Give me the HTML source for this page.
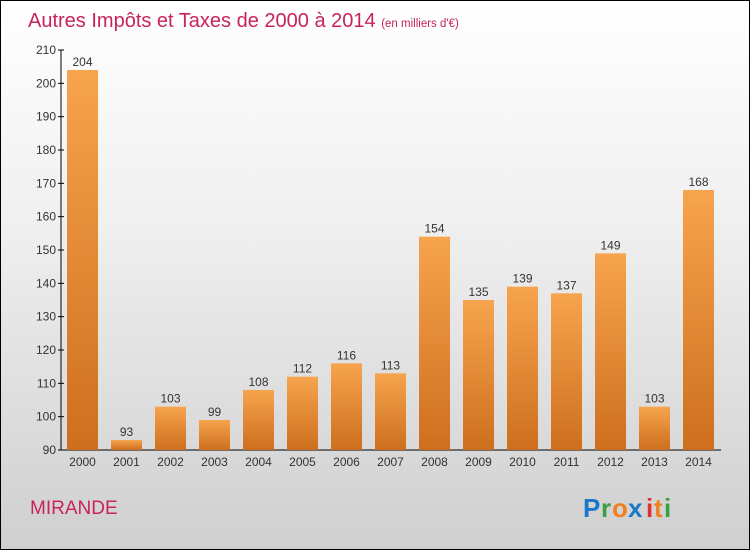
<!DOCTYPE html>
<html><head><meta charset="utf-8"><style>
body{margin:0}
#c{width:750px;height:550px;position:relative;box-sizing:border-box;border:1px solid #000;background:linear-gradient(#ffffff,#f0f0f0 40%,#cfcfcf);font-family:"Liberation Sans",sans-serif;overflow:hidden}
</style></head><body>
<div id="c">
<svg width="750" height="550" style="position:absolute;left:-1px;top:-1px" id="s">
<defs><linearGradient id="g" x1="0" y1="0" x2="0" y2="1"><stop offset="0" stop-color="#f7a44e"/><stop offset="1" stop-color="#cd6f1e"/></linearGradient></defs>
<text x="28" y="27" font-size="20" fill="#c8245a" font-family="Liberation Sans,sans-serif">Autres Impôts et Taxes de 2000 à 2014 <tspan font-size="11.5">(en milliers d'€)</tspan></text>
<text x="30" y="514" font-size="19" fill="#c8245a" font-family="Liberation Sans,sans-serif">MIRANDE</text>
<g font-family="Liberation Sans,sans-serif" font-size="26" font-weight="bold">
<text x="583" y="517" fill="#1a78c8">P</text><text x="601" y="517" fill="#3aa040">r</text><text x="612" y="517" fill="#f08020">o</text><text x="628" y="517" fill="#1a78c8">x</text><text x="646" y="517" fill="#e03030">i</text><text x="654" y="517" fill="#f08020">t</text><text x="664" y="517" fill="#3aa040">i</text></g>
<g id="ax"></g><g id="bars"></g>
</svg>
<script>
const years=["2000","2001","2002","2003","2004","2005","2006","2007","2008","2009","2010","2011","2012","2013","2014"];
const values=[204,93,103,99,108,112,116,113,154,135,139,137,149,103,168];
const ticks=[90,100,110,120,130,140,150,160,170,180,190,200,210];
const NS="http://www.w3.org/2000/svg";
const y=v=>450-(v-90)*400/120;
const xc=i=>82.5+i*44;
function mk(t,a,p,txt){const e=document.createElementNS(NS,t);for(const k in a)e.setAttribute(k,a[k]);if(txt!==undefined)e.textContent=txt;p.appendChild(e);return e;}
const ax=document.getElementById('ax'),bg=document.getElementById('bars');
let l=mk('line',{x1:61,y1:50,x2:61,y2:450,stroke:'#000'},ax);


l=mk('line',{x1:61,y1:450,x2:721,y2:450,stroke:'#000'},ax);


ticks.forEach(t=>{
 const tk=mk('line',{x1:58,x2:64,y1:y(t),y2:y(t),stroke:'#000'},ax);
 
 
 const tx=mk('text',{x:56,y:y(t)+4,'text-anchor':'end','font-size':12,fill:'#333'},ax,t);
 
 
});
years.forEach((yr,i)=>{
 const v=values[i];
 const r=mk('rect',{x:xc(i)-15.5,y:y(v),width:31,height:450-y(v),fill:'url(#g)'},bg);
 
 
 const vl=mk('text',{x:xc(i),y:y(v)-4,'text-anchor':'middle','font-size':12,fill:'#333'},bg,v);
 
 
 const xl=mk('text',{x:xc(i),y:466,'text-anchor':'middle','font-size':12,fill:'#333'},ax,yr);
 
 
});
</script>
</div></body></html>
